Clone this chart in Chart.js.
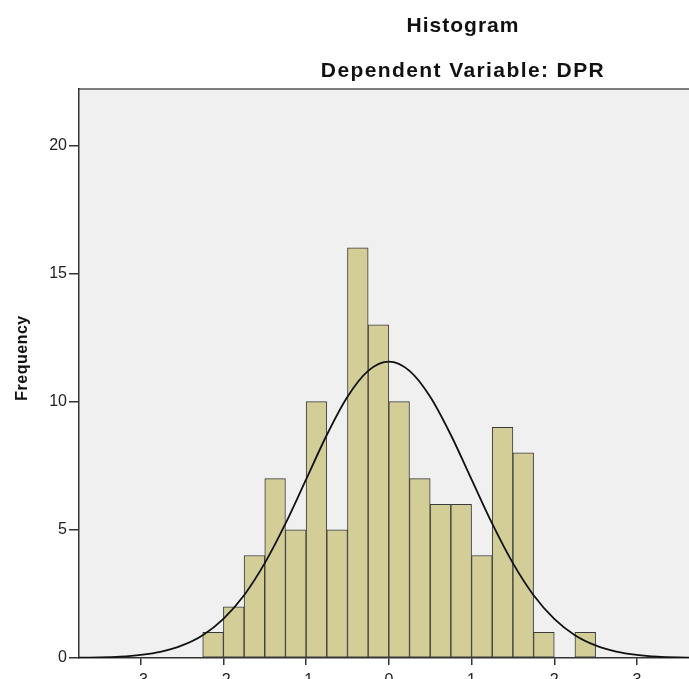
<!DOCTYPE html>
<html>
<head>
<meta charset="utf-8">
<title>Histogram</title>
<script src="https://cdn.jsdelivr.net/npm/chart.js@4.4.1/dist/chart.umd.min.js"></script>
<style>
    html, body { margin: 0; padding: 0; background: #ffffff; overflow: hidden; }
    #wrap { width: 699px; height: 700px; }
</style>
</head>
<body>
<div id="wrap"><canvas id="hist" width="699" height="700"></canvas></div>
<script>
// Données (résidus standardisés, classes de 0.25)
const binCenters = [-2.125, -1.875, -1.625, -1.375, -1.125, -0.875, -0.625, -0.375, -0.125,
                    0.125, 0.375, 0.625, 0.875, 1.125, 1.375, 1.625, 1.875, 2.125, 2.375];
const frequencies = [1, 2, 4, 7, 5, 10, 5, 16, 13, 10, 7, 6, 6, 4, 9, 8, 1, 0, 1];

// Courbe normale, valeurs estimées sur l'image
const curveX = [-3.75, -3.5, -3.25, -3, -2.75, -2.5, -2.25, -2, -1.75, -1.5, -1.25, -1, -0.75, -0.5, -0.25, 0,
                0.25, 0.5, 0.75, 1, 1.25, 1.5, 1.75, 2, 2.25, 2.5, 2.75, 3, 3.25, 3.5, 3.75];
const curveY = [0.01, 0.02, 0.05, 0.12, 0.25, 0.49, 0.89, 1.53, 2.45, 3.70, 5.24, 6.97, 8.70, 10.19, 11.20, 11.56,
                11.20, 10.19, 8.70, 6.97, 5.24, 3.70, 2.45, 1.53, 0.89, 0.49, 0.25, 0.12, 0.05, 0.02, 0.01];

// Graduations des axes
const xTicks = [-3, -2, -1, 0, 1, 2, 3];
const yTicks = [0, 5, 10, 15, 20];

const chartTitle = 'Histogram';
const chartSubtitle = 'Dependent Variable: DPR';
const yAxisTitle = 'Frequency';

// Fond gris de la zone du graphique + bordure du haut
const plotBackground = {
    id: 'plotBackground',
    beforeDraw(chart) {
        const { ctx, chartArea } = chart;
        ctx.save();
        ctx.fillStyle = '#f0f0f0';
        ctx.fillRect(chartArea.left, chartArea.top, chartArea.right - chartArea.left, chartArea.bottom - chartArea.top);
        ctx.strokeStyle = '#555555';
        ctx.lineWidth = 1.5;
        ctx.beginPath();
        ctx.moveTo(chartArea.left, chartArea.top);
        ctx.lineTo(chartArea.right, chartArea.top);
        ctx.stroke();
        ctx.restore();
    }
};

// Titres dessinés à la main (centrés comme dans SPSS)
const titles = {
    id: 'titles',
    afterDraw(chart) {
        const ctx = chart.ctx;
        ctx.save();
        ctx.fillStyle = '#111111';
        ctx.textAlign = 'center';
        ctx.textBaseline = 'alphabetic';
        ctx.font = 'bold 21px "Liberation Sans", Arial, sans-serif';
        ctx.letterSpacing = '1px';
        ctx.fillText(chartTitle, 463, 32);
        ctx.letterSpacing = '1.4px';
        ctx.fillText(chartSubtitle, 463, 77);

        ctx.font = 'bold 16px "Liberation Sans", Arial, sans-serif';
        ctx.letterSpacing = '0.5px';
        ctx.translate(27, 358);
        ctx.rotate(-Math.PI / 2);
        ctx.fillText(yAxisTitle, 0, 0);
        ctx.restore();
    }
};

const ctx = document.getElementById('hist').getContext('2d');

new Chart(ctx, {
    type: 'bar',
    data: {
        datasets: [
            {
                type: 'line',
                data: curveX.map((x, i) => ({ x: x, y: curveY[i] })),
                borderColor: '#111111',
                borderWidth: 1.8,
                pointRadius: 0,
                cubicInterpolationMode: 'monotone',
                fill: false,
                order: 0
            },
            {
                type: 'bar',
                data: binCenters.map((x, i) => ({ x: x, y: frequencies[i] })),
                backgroundColor: '#d3ce97',
                borderColor: '#3a3a3a',
                borderWidth: 1,
                borderSkipped: false,
                barPercentage: 1,
                categoryPercentage: 1,
                order: 1
            }
        ]
    },
    options: {
        responsive: false,
        animation: false,
        layout: { padding: { top: 89, left: 0, right: 0, bottom: 0 } },
        plugins: {
            legend: { display: false },
            tooltip: { enabled: false }
        },
        scales: {
            x: {
                type: 'linear',
                offset: false,
                min: -3.746,
                max: 3.75,
                afterBuildTicks: (scale) => { scale.ticks = xTicks.map(v => ({ value: v })); },
                afterFit: (scale) => { scale.height = 42; },
                grid: { offset: false, drawOnChartArea: false, drawTicks: true, tickLength: 7, color: '#333333', lineWidth: 1.5 },
                border: { display: true, color: '#333333', width: 1.5 },
                ticks: {
                    color: '#222222',
                    font: { family: '"Liberation Sans", Arial, sans-serif', size: 16 },
                    padding: 6,
                    maxRotation: 0,
                    callback: (v) => String(v)
                }
            },
            y: {
                min: 0,
                max: 22.2,
                afterBuildTicks: (scale) => { scale.ticks = yTicks.map(v => ({ value: v })); },
                afterFit: (scale) => { scale.width = 79; },
                grid: { drawOnChartArea: false, drawTicks: true, tickLength: 10, color: '#333333', lineWidth: 1.5 },
                border: { display: true, color: '#333333', width: 1.5 },
                ticks: {
                    color: '#222222',
                    font: { family: '"Liberation Sans", Arial, sans-serif', size: 16 },
                    padding: 2
                }
            }
        }
    },
    plugins: [plotBackground, titles]
});
</script>
</body>
</html>
